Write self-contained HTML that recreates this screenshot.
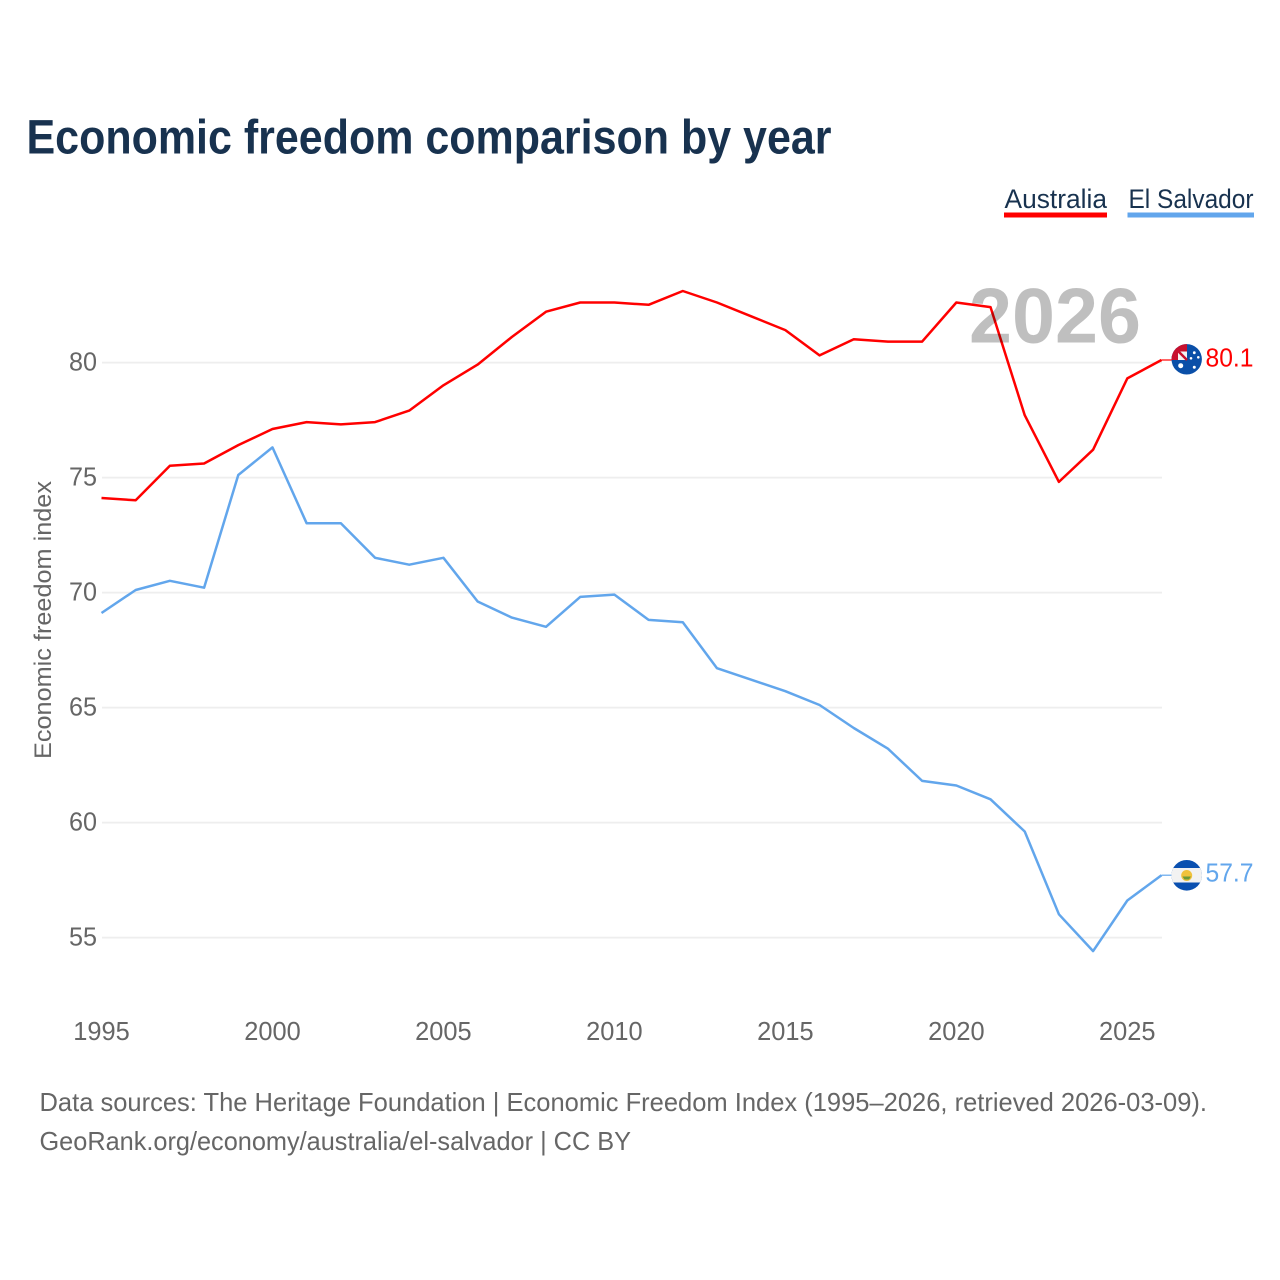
<!DOCTYPE html>
<html lang="en">
<head>
<meta charset="utf-8">
<title>Economic freedom comparison by year</title>
<style>
html,body{margin:0;padding:0;background:#fff;}
svg{display:block;font-family:"Liberation Sans",sans-serif;}
</style>
</head>
<body>
<svg id="chart" xmlns="http://www.w3.org/2000/svg" width="1280" height="1280" viewBox="0 0 1280 1280">
  <rect x="0" y="0" width="1280" height="1280" fill="#ffffff"/>
  <text x="26.500" y="153.500" font-size="48" font-weight="700" fill="#18324f" textLength="805" lengthAdjust="spacingAndGlyphs">Economic freedom comparison by year</text>

  <g>
    <text x="1004.500" y="208" font-size="27" fill="#18324f" textLength="102.500" lengthAdjust="spacingAndGlyphs">Australia</text>
    <rect x="1004" y="212.500" width="103" height="5" fill="#ff0000"/>
  </g>
  <g>
    <text x="1128.500" y="208" font-size="27" fill="#18324f" textLength="125" lengthAdjust="spacingAndGlyphs">El Salvador</text>
    <rect x="1127.500" y="212.500" width="126.500" height="5" fill="#62a6ec"/>
  </g>

  <text transform="translate(51,620) rotate(-90)" text-anchor="middle" font-size="24" fill="#666666" textLength="278" lengthAdjust="spacingAndGlyphs">Economic freedom index</text>

  <g id="grid"></g>
  <g id="yticks"></g>
  <g id="xticks"></g>
  <g id="series"></g>

  <text x="969" y="342.700" font-size="78" font-weight="700" fill="#000000" fill-opacity="0.25" textLength="172" lengthAdjust="spacingAndGlyphs">2026</text>

  <defs>
    <clipPath id="clip-au"><circle cx="1186.700" cy="359.300" r="15.200"/></clipPath>
    <clipPath id="clip-sv"><circle cx="1186.700" cy="875.300" r="15.300"/></clipPath>
  </defs>

  <g clip-path="url(#clip-au)">
    <rect x="1171" y="343" width="32" height="33" fill="#0a4fa8"/>
    <rect x="1171" y="343" width="16" height="17" fill="#c8102e"/>
    <rect x="1178" y="351.500" width="9" height="8.500" fill="#f4f4f4"/>
    <path d="M1176 349 L1187 360" stroke="#c8102e" stroke-width="2.500"/>
    <circle cx="1180.700" cy="365.700" r="2.500" fill="#fff"/>
    <circle cx="1194.300" cy="352.700" r="1.400" fill="#fff"/>
    <circle cx="1198.300" cy="357.300" r="1.300" fill="#fff"/>
    <circle cx="1191" cy="358.300" r="1.300" fill="#fff"/>
    <circle cx="1194.300" cy="367.300" r="1.500" fill="#fff"/>
  </g>
  <g clip-path="url(#clip-sv)">
    <rect x="1171" y="859" width="32" height="33" fill="#0a50b0"/>
    <rect x="1171" y="868" width="32" height="14.500" fill="#f2f2f2"/>
    <circle cx="1186.700" cy="875.500" r="5.500" fill="#f0c23c"/>
    <path d="M1182.500 876.500 h8.500 l-2 3 h-4.500z" fill="#6b9a3a"/>
  </g>

  <text x="39.500" y="1111" font-size="26" fill="#666666" textLength="1167.500" lengthAdjust="spacingAndGlyphs">Data sources: The Heritage Foundation | Economic Freedom Index (1995–2026, retrieved 2026-03-09).</text>
  <text x="39.500" y="1150" font-size="26" fill="#666666" textLength="591.500" lengthAdjust="spacingAndGlyphs">GeoRank.org/economy/australia/el-salvador | CC BY</text>
</svg>
<script>
const years = [1995,1996,1997,1998,1999,2000,2001,2002,2003,2004,2005,2006,2007,2008,2009,2010,2011,2012,2013,2014,2015,2016,2017,2018,2019,2020,2021,2022,2023,2024,2025,2026];
const australia = [74.1,74.0,75.5,75.6,76.4,77.1,77.4,77.3,77.4,77.9,79.0,79.9,81.1,82.2,82.6,82.6,82.5,83.1,82.6,82.0,81.4,80.3,81.0,80.9,80.9,82.6,82.4,77.7,74.8,76.2,79.3,80.1];
const elSalvador = [69.1,70.1,70.5,70.2,75.1,76.3,73.0,73.0,71.5,71.2,71.5,69.6,68.9,68.5,69.8,69.9,68.8,68.7,66.7,66.2,65.7,65.1,64.1,63.2,61.8,61.6,61.0,59.6,56.0,54.4,56.6,57.7];
const yTicks = [55,60,65,70,75,80];
const xTicks = [1995,2000,2005,2010,2015,2020,2025];

const NS = 'http://www.w3.org/2000/svg';
const xScale = function (year) { return 101.5 + (year - 1995) * (1161.5 - 101.5) / (2026 - 1995); };
const yScale = function (value) { return 362.3 + (80 - value) * 23; };

function make(tag, attrs, parent, text) {
  const el = document.createElementNS(NS, tag);
  Object.keys(attrs).forEach(function (k) { el.setAttribute(k, attrs[k]); });
  if (text !== undefined) el.textContent = text;
  parent.appendChild(el);
  return el;
}

const gridG = document.getElementById('grid');
const yG = document.getElementById('yticks');
const xG = document.getElementById('xticks');
const seriesG = document.getElementById('series');

yTicks.forEach(function (t) {
  const gridY = yScale(t) + 0.3;
  const line = make('line', {x1: 102, x2: 1162, y1: gridY, y2: gridY, stroke: '#eeeeee', 'stroke-width': 1.7}, gridG);
  
  
  const label = make('text', {x: 97, y: gridY + 8, 'text-anchor': 'end', 'font-size': 26, fill: '#666666', textLength: 28, lengthAdjust: 'spacingAndGlyphs'}, yG, String(t));
  
  
});

xTicks.forEach(function (t) {
  const label = make('text', {x: xScale(t), y: 1040, 'text-anchor': 'middle', 'font-size': 26, fill: '#666666', textLength: 56.5, lengthAdjust: 'spacingAndGlyphs'}, xG, String(t));
  
  
});

function drawSeries(values, color, seriesName) {
  const pts = values.map(function (v, i) { return xScale(years[i]).toFixed(2) + ',' + yScale(v).toFixed(2); }).join(' ');
  const line = make('polyline', {points: pts, fill: 'none', stroke: color, 'stroke-width': 2.5, 'stroke-linejoin': 'round'}, seriesG);
  
  
  const last = values[values.length - 1];
  const lastY = yScale(last);
  const connector = make('line', {x1: 1161.5, x2: 1172, y1: lastY, y2: lastY, stroke: color, 'stroke-width': 1.2}, seriesG);
  
  
  const label = make('text', {x: 1205.5, y: lastY + 6.5, 'font-size': 26, fill: color, textLength: 48, lengthAdjust: 'spacingAndGlyphs'}, seriesG, last.toFixed(1));
  
  
}

drawSeries(australia, '#ff0000', 'australia');
drawSeries(elSalvador, '#62a6ec', 'el-salvador');
</script>
</body>
</html>
